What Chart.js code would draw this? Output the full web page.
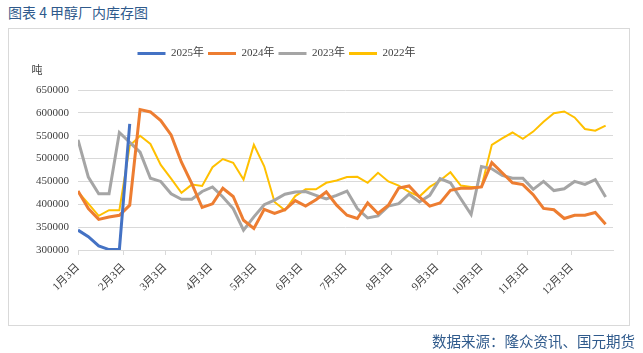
<!DOCTYPE html>
<html>
<head>
<meta charset="utf-8">
<script src="https://cdn.jsdelivr.net/npm/chart.js@4.4.1/dist/chart.umd.min.js"></script>
<style>
  html, body { margin: 0; padding: 0; background: #fff; }
  #wrap { position: relative; width: 643px; height: 353px; overflow: hidden; }
  #title { position: absolute; left: 8px; top: 2px; font: 14px 'Noto Sans CJK SC', sans-serif; color: #2f5a8c; }
  #frame { position: absolute; left: 8px; top: 28px; width: 620px; height: 296px; border: 1px solid #d9d9d9; }
  #source { position: absolute; right: 8px; top: 330px; font: 14.5px 'Noto Sans CJK SC', sans-serif; color: #2f5a8c; }
  canvas { position: absolute; left: 0; top: 0; }
</style>
</head>
<body>
<div id="wrap">
  <div id="title">图表 4 甲醇厂内库存图</div>
  <div id="frame"></div>
  <canvas id="invChart" width="643" height="353"></canvas>
  <div id="source">数据来源：隆众资讯、国元期货</div>
</div>
<script>
const seriesNames = ["2025年", "2024年", "2023年", "2022年"];
const seriesColors = ["#4472C4", "#ED7D31", "#A5A5A5", "#FFC000"];
const seriesWidths = [3, 3, 3, 2];

// x 轴：距 1月3日 的天数
const tickDays = [0, 31, 59, 90, 120, 151, 181, 212, 243, 273, 304, 334];
const tickLabels = ["1月3日", "2月3日", "3月3日", "4月3日", "5月3日", "6月3日",
  "7月3日", "8月3日", "9月3日", "10月3日", "11月3日", "12月3日"];

// 每周一个点（吨）
const inv2025 = [343500, 329000, 309000, 301000, 301000, 576000];
const inv2024 = [429000, 390600, 367000, 372000, 376000, 398000, 607000, 602000, 583000, 551600, 492000, 445000, 393000, 401000,
  435000, 417000, 365000, 347000, 389000, 380000, 388000, 408000, 396000, 410000, 427000, 398000, 376000, 369000,
  403000, 380000, 398000, 435600, 440000, 416000, 396000, 403000, 430500, 435000, 435000, 438000, 491000, 469000,
  447000, 443000, 421000, 391000, 388000, 369000, 376000, 376000, 382000, 356500];
const inv2023 = [541000, 459500, 423000, 423000, 557000, 535600, 514000, 457000, 450000, 423000, 411000, 411000, 428000, 438000,
  416000, 390600, 343500, 372500, 399000, 409000, 422000, 427000, 428000, 419600, 411600, 419600, 429000, 390600,
  370000, 374700, 396000, 401500, 422000, 405000, 419600, 456000, 447000, 412000, 377600, 482700, 477600, 463000,
  457000, 457000, 432700, 450000, 430000, 434000, 450000, 443500, 454000, 416000];
const inv2022 = [427000, 401500, 374700, 387000, 387000, 528000, 550000, 532000, 486000, 456000, 425000, 443000, 440000, 481000,
  499000, 490700, 454000, 530000, 483000, 405000, 387000, 418000, 432700, 432700, 447000, 452000, 459500, 460000,
  447000, 469000, 450000, 441000, 427000, 417000, 438000, 452000, 470000, 441000, 438000, 438000, 530000, 544000,
  557000, 543000, 559000, 580600, 599000, 603000, 590000, 564600, 561000, 572000];

const allSeries = [inv2025, inv2024, inv2023, inv2022];
const weekDay = i => i * 7;

const labelFont = { family: "'Liberation Serif', 'Noto Sans CJK SC', serif", size: 11 };

const layoutTweak = {
  id: "layoutTweak",
  beforeInit(chart) {
    const legend = chart.legend;
    const fit = legend.fit;
    legend.fit = function () { fit.call(this); this.height += 21; };
  },
  afterLayout(chart) {
    chart.legend.left -= 34;
    chart.legend.right -= 34;
  },
  afterDraw(chart) {
    const ctx = chart.ctx;
    ctx.save();
    ctx.font = "11px 'Noto Sans CJK SC'";
    ctx.fillStyle = "#404040";
    ctx.textAlign = "center";
    ctx.textBaseline = "middle";
    ctx.fillText("吨", 37, 70);
    ctx.restore();
  }
};

new Chart(document.getElementById("invChart"), {
  type: "line",
  data: {
    datasets: allSeries.map((vals, k) => ({
      label: seriesNames[k],
      data: vals.map((v, i) => ({ x: weekDay(i), y: v })),
      borderColor: seriesColors[k],
      backgroundColor: seriesColors[k],
      borderWidth: seriesWidths[k],
      pointRadius: 0,
      tension: 0
    }))
  },
  options: {
    responsive: false,
    animation: false,
    layout: { padding: { left: 8, right: 30, top: 44, bottom: 0 } },
    plugins: {
      legend: {
        position: "top",
        labels: {
          boxWidth: 28,
          boxHeight: 3,
          padding: 4,
          color: "#404040",
          font: labelFont,
          generateLabels: c => Chart.defaults.plugins.legend.labels.generateLabels(c)
            .map(l => ({ ...l, lineWidth: 0 }))
        }
      },
      tooltip: { enabled: false }
    },
    scales: {
      x: {
        type: "linear",
        min: 0,
        max: 362,
        afterBuildTicks: s => { s.ticks = tickDays.map(v => ({ value: v })); },
        afterFit: s => { s.height = 103; },
        ticks: {
          autoSkip: false,
          maxRotation: 45,
          minRotation: 45,
          padding: 6,
          color: "#404040",
          font: labelFont,
          callback: v => tickLabels[tickDays.indexOf(v)]
        },
        grid: { drawOnChartArea: false, drawTicks: true, tickLength: 5, color: "#d9d9d9" },
        border: { display: true, color: "#d9d9d9" }
      },
      y: {
        min: 300000,
        max: 650000,
        afterFit: s => { s.width = 70; },
        ticks: {
          stepSize: 50000,
          padding: 9,
          color: "#404040",
          font: labelFont,
          callback: v => String(v)
        },
        grid: { color: "#d9d9d9", drawTicks: false },
        border: { display: false }
      }
    }
  },
  plugins: [layoutTweak]
});
</script>
</body>
</html>
